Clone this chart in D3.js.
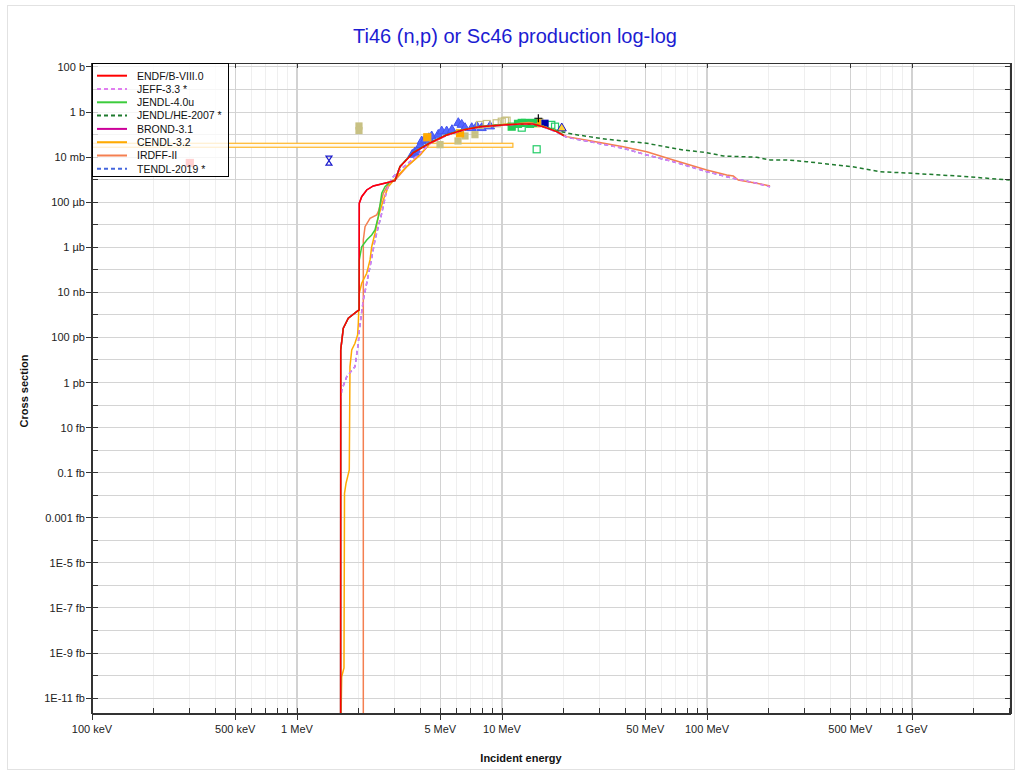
<!DOCTYPE html>
<html lang="en">
<head>
  <meta charset="UTF-8">
  <title>Ti46 (n,p) or Sc46 production log-log</title>
  <script src="https://cdnjs.cloudflare.com/ajax/libs/d3/7.8.5/d3.min.js"></script>
  <style>
    body { margin: 0; background: #fff; }
    svg { font-family: "Liberation Sans", Arial, sans-serif; }
    .tick-label { font-size: 11px; fill: #222; }
    .axis-title { font-size: 11px; font-weight: bold; fill: #111; }
    .legend text { font-size: 10.5px; fill: #111; }
  </style>
</head>
<body>
  <svg width="1020" height="774"></svg>
  <script>
    // energies in MeV, cross sections in barns
    var endf = [[1.632,1e-28],[1.634,2.8e-11],[1.682,2.55e-10],[1.779,7.1e-10],[1.955,1.39e-9],[2.010,1.66e-9],
      [2.013,9.0e-5],[2.068,1.76e-4],[2.188,3.49e-4],[2.356,5.25e-4],[2.739,7.36e-4],[3.006,9.0e-4],[3.18,3.78e-3],
      [3.68,0.0153],[4.455,0.0425],[5.37,0.0962],[6.45,0.160],[7.81,0.225],[10.1,0.267],[12.24,0.296],[14.16,0.296],
      [15.85,0.225],[18.49,0.135],[20.0,0.090]]
    var brond = [[1.632,1e-28],[1.634,2.8e-11],[1.682,2.55e-10],[1.779,7.1e-10],[1.955,1.39e-9],[2.010,1.66e-9],
      [2.013,9.0e-5],[2.068,1.76e-4],[2.188,3.49e-4],[2.356,5.25e-4],[2.739,7.36e-4],[3.006,9.0e-4],[3.18,3.8e-3],
      [3.68,0.0155],[4.455,0.043],[5.37,0.097],[6.45,0.161],[7.81,0.226],[10.1,0.268],[12.24,0.297],[14.16,0.295],
      [15.85,0.226],[18.49,0.136],[20.0,0.091]]
    var jeff = [[1.634,1.7e-13],[1.652,4.68e-13],[1.748,1.82e-12],[1.918,5.06e-12],[1.938,1e-11],[1.991,5.52e-11],
      [2.013,2.15e-10],[2.106,4.6e-9],[2.271,1.38e-7],[2.401,2.11e-6],[2.493,8.22e-6],[2.590,3.23e-5],[2.739,3.49e-4],
      [2.897,1.15e-3],[3.18,2.69e-3],[3.56,6.29e-3],[3.98,0.0148],[4.455,0.040],[5.37,0.092],[6.45,0.155],[7.81,0.22],
      [10.1,0.262],[12.24,0.29],[14.16,0.29],[15.85,0.22],[18.49,0.13],[20.68,0.076],[26.87,0.0485],[39.06,0.0247],
      [50.8,0.01247],[68.5,6.29e-3],[99.7,2.26e-3],[134.4,1.15e-3],[174.7,6.92e-4],[203,4.89e-4]]
    var tendl = [[1.634,1.7e-13],[1.652,4.68e-13],[1.748,1.82e-12],[1.918,5.06e-12],[1.938,1e-11],[1.991,5.52e-11],
      [2.013,2.15e-10],[2.106,4.6e-9],[2.271,1.38e-7],[2.401,2.11e-6],[2.493,8.22e-6],[2.590,3.23e-5],[2.739,3.49e-4],
      [2.897,1.15e-3],[3.18,2.69e-3],[3.56,6.29e-3],[3.98,0.0148],[4.455,0.041],[5.37,0.093],[6.45,0.156],[7.81,0.221],
      [10.1,0.263],[12.24,0.291],[14.16,0.29],[15.85,0.22],[18.49,0.13],[20.68,0.076],[26.87,0.0485],[39.06,0.0247],
      [50.8,0.01247],[68.5,6.29e-3],[99.7,2.26e-3],[134.4,1.15e-3],[174.7,6.92e-4],[203,4.89e-4]]
    var jendl40 = [[1.632,1e-28],[1.634,2.8e-11],[1.682,2.55e-10],[1.779,7.1e-10],[1.955,1.39e-9],[2.010,1.66e-9],
      [2.013,2.74e-7],[2.068,1.06e-6],[2.188,2.11e-6],[2.314,3.52e-6],[2.401,5.86e-6],[2.493,2.28e-5],[2.590,2.49e-4],
      [2.687,4.89e-4],[2.842,8.15e-4],[3.006,9.0e-4],[3.18,3.9e-3],[3.68,0.016],[4.455,0.044],[5.37,0.098],[6.45,0.163],
      [7.81,0.228],[10.1,0.27],[12.24,0.30],[14.16,0.30],[15.85,0.23],[18.49,0.14],[20.0,0.092]]
    var jendlHe = [[3.006,9.0e-4],[3.18,3.8e-3],[3.68,0.0155],[4.455,0.043],[5.37,0.097],[6.45,0.16],[7.81,0.226],
      [10.1,0.27],[12.24,0.295],[14.16,0.29],[15.85,0.23],[18.49,0.15],[22.27,0.1033],[32.42,0.062],[50.8,0.0412],
      [76.6,0.0208],[99.7,0.01578],[120.1,0.01125],[174.7,9.86e-3],[203,7.48e-3],[244.8,7.48e-3],[306.3,6.29e-3],
      [507.9,3.78e-3],[698,2.26e-3],[1000,1.92e-3],[1652,1.46e-3],[3000,9.7e-4]]
    var cendl = [[1.632,1e-28],[1.652,8.9e-26],[1.695,2.19e-25],[1.705,1.22e-17],[1.734,3.39e-17],[1.799,1.32e-16],
      [1.813,5.06e-12],[1.849,2.78e-11],[1.918,5.52e-11],[1.975,1.29e-10],[1.991,4.26e-10],[2.013,9.1e-9],
      [2.068,2.54e-8],[2.188,7.03e-8],[2.271,2.74e-7],[2.314,1.06e-6],[2.401,4.19e-6],[2.493,2.28e-5],[2.636,1.26e-4],
      [2.788,4.89e-4],[3.064,1.36e-3],[3.429,3.78e-3],[3.98,0.01247],[4.455,0.041],[5.37,0.095],[6.45,0.16],
      [7.81,0.225],[10.1,0.28],[12.24,0.31],[14.16,0.31],[15.85,0.235],[18.49,0.14],[20.0,0.09]]
    var irdff = [[2.106,1e-28],[2.106,2.11e-6],[2.147,8.22e-6],[2.271,1.94e-5],[2.448,2.72e-5],[2.493,3.8e-5],
      [2.636,2.49e-4],[2.842,8.15e-4],[3.064,1.15e-3],[3.429,3.78e-3],[3.98,0.01247],[4.455,0.040],[5.37,0.094],
      [6.45,0.158],[7.81,0.222],[10.1,0.27],[12.24,0.31],[13.5,0.34],[14.16,0.32],[15.85,0.235],[18.49,0.14],
      [20.68,0.081],[26.87,0.0537],[39.06,0.0291],[50.8,0.01746],[68.5,7.48e-3],[99.7,2.69e-3],[124.8,1.61e-3],
      [134.4,1.46e-3],[142.1,9.7e-4],[174.7,6.92e-4],[203,5.25e-4]]

    // experimental points
    var blueTri = [[3.651,0.0129],[3.75,0.016],[3.836,0.0182],[4.0,0.035],[4.058,0.0506],[4.212,0.0596],[4.4,0.07],
      [4.54,0.0842],[4.89,0.0991],[5.08,0.14],[5.37,0.14],[5.7,0.16],[6.12,0.328],[6.36,0.275],[6.60,0.197],
      [7.12,0.197],[7.53,0.234],[7.96,0.197],[8.74,0.234]]
    var khakiFill = [[2.006,0.241],[2.006,0.152],[4.985,0.0357],[6.10,0.0521],[6.60,0.0869],[7.38,0.0991],[15.3,0.374]]
    var khakiOpen = [[7.81,0.267],[8.42,0.296],[9.42,0.318],[9.97,0.374],[10.34,0.402],[10.53,0.415]]
    var orangeSq = [[4.32,0.076],[6.24,0.1145],[14.76,0.318]]
    var greenFill = [[11.15,0.225],[11.97,0.30],[12.48,0.33],[12.95,0.33],[13.70,0.30],[14.16,0.33]]
    var greenOpen = [[12.48,0.203],[14.76,0.0223],[17.4,0.27],[18.14,0.225]]
    var navySq = [[16.21,0.318]]
    var blueTriOpen = [[19.56,0.191]]
    var blackPlus = [[15.04,0.53]]
    var hourglass = [[1.432,6.97e-3]]
    var redSq = [[0.30,5.5e-3]]
    var bandE = [0.05, 11.3]
    var bandXs = [0.0274, 0.0412]

    var xTickValues = [0.1, 0.5, 1, 5, 10, 50, 100, 500, 1000]
    var xTickLabels = ["100 keV", "500 keV", "1 MeV", "5 MeV", "10 MeV", "50 MeV", "100 MeV", "500 MeV", "1 GeV"]
    var yTickValues = [1e2, 1, 1e-2, 1e-4, 1e-6, 1e-8, 1e-10, 1e-12, 1e-14, 1e-16, 1e-18, 1e-20, 1e-22, 1e-24, 1e-26]
    var yTickLabels = ["100 b", "1 b", "10 mb", "100 µb", "1 µb", "10 nb", "100 pb", "1 pb", "10 fb", "0.1 fb",
      "0.001 fb", "1E-5 fb", "1E-7 fb", "1E-9 fb", "1E-11 fb"]

    var series = [
      { name: "ENDF/B-VIII.0", data: endf, color: "#ff0000", dash: null },
      { name: "JEFF-3.3 *", data: jeff, color: "#e07ef0", dash: "4,3" },
      { name: "JENDL-4.0u", data: jendl40, color: "#3ccc3c", dash: null },
      { name: "JENDL/HE-2007 *", data: jendlHe, color: "#1f7a2e", dash: "4,3" },
      { name: "BROND-3.1", data: brond, color: "#cc0099", dash: null },
      { name: "CENDL-3.2", data: cendl, color: "#ffaa00", dash: null },
      { name: "IRDFF-II", data: irdff, color: "#f47f50", dash: null },
      { name: "TENDL-2019 *", data: tendl, color: "#4466dd", dash: "4,3" }
    ]

    var L = 92, R = 1011, T = 63, B = 714
    var svg = d3.select("svg")
    var x = d3.scaleLog().domain([0.1, 3040]).range([L, R])
    var y = d3.scaleLog().domain([1.97e-27, 150]).range([B, T])

    // outer frame
    svg.append("rect").attr("x", 7.5).attr("y", 5.5).attr("width", 1007).attr("height", 764)
      .attr("fill", "none").attr("stroke", "#e2e2e2")

    // grid
    var xMinor = [], xMajorGrid = []
    for (var d = -1; d <= 3; d++) {
      for (var m = 1; m <= 9; m++) {
        var v = m * Math.pow(10, d)
        if (v < 0.1 || v > 3040) continue
        if (m === 1 || m === 5) xMajorGrid.push(v); else xMinor.push(v)
      }
    }
    var yDecades = d3.range(-26, 3).map(function (p) { return Math.pow(10, p) })

    var grid = svg.append("g").attr("shape-rendering", "crispEdges")
    grid.selectAll(".gx1").data(xMinor).enter().append("line")
      .attr("x1", x).attr("x2", x).attr("y1", T).attr("y2", B)
      .attr("stroke", "#efefef")
    grid.selectAll(".gy").data(yDecades).enter().append("line")
      .attr("x1", L).attr("x2", R).attr("y1", y).attr("y2", y)
      .attr("stroke", "#d4d4d4")
    grid.selectAll(".gx2").data(xMajorGrid).enter().append("line")
      .attr("x1", x).attr("x2", x).attr("y1", T).attr("y2", B)
      .attr("stroke", "#d2d2d2").attr("stroke-width", 1.2)

    var plot = svg.append("g").attr("clip-path", "url(#clip)")
    svg.append("clipPath").attr("id", "clip").append("rect")
      .attr("x", L).attr("y", T).attr("width", R - L).attr("height", B - T)

    // wide energy band point
    plot.append("rect")
      .attr("x", x(bandE[0])).attr("width", x(bandE[1]) - x(bandE[0]))
      .attr("y", y(bandXs[1])).attr("height", y(bandXs[0]) - y(bandXs[1]))
      .attr("fill", "#fffaf0").attr("stroke", "#ffb628").attr("stroke-width", 1.2)

    function squares(data, size, fill, stroke) {
      plot.append("g").selectAll("rect").data(data).enter().append("rect")
        .attr("x", function (d) { return x(d[0]) - size / 2 })
        .attr("y", function (d) { return y(d[1]) - size / 2 })
        .attr("width", size).attr("height", size)
        .attr("fill", fill).attr("stroke", stroke).attr("stroke-width", 1.2)
    }
    function symbols(data, type, size, fill, stroke) {
      plot.append("g").selectAll("path").data(data).enter().append("path")
        .attr("transform", function (d) { return "translate(" + x(d[0]) + "," + y(d[1]) + ")" })
        .attr("d", d3.symbol().type(type).size(size))
        .attr("fill", fill).attr("stroke", stroke).attr("stroke-width", 1)
    }

    squares(redSq, 7, "#ff3030", "#ff3030")
    symbols(blueTri, d3.symbolTriangle, 36, "#5566ff", "#4455ee")
    squares(khakiFill, 6, "#c8c184", "#c8c184")
    squares(khakiOpen, 7, "none", "#c8c184")
    squares(orangeSq, 7, "#ffaa00", "#ffaa00")
    squares(greenFill, 7, "#22cc55", "#22cc55")
    squares(greenOpen, 7, "none", "#22cc66")
    squares(navySq, 6, "#0000aa", "#0000aa")
    symbols(blueTriOpen, d3.symbolTriangle, 36, "#ffd23a", "#1a1acc")
    plot.append("g").selectAll("path").data(blackPlus).enter().append("path")
      .attr("transform", function (d) { return "translate(" + x(d[0]) + "," + y(d[1]) + ")" })
      .attr("d", "M-4,0H4M0,-4V4").attr("stroke", "#000").attr("stroke-width", 1.2)
    plot.append("g").selectAll("path").data(hourglass).enter().append("path")
      .attr("transform", function (d) { return "translate(" + x(d[0]) + "," + y(d[1]) + ")" })
      .attr("d", "M-3,-4.5H3L-3,4.5H3Z").attr("fill", "none").attr("stroke", "#1a1acc").attr("stroke-width", 1.2)

    // evaluated curves, last legend entry drawn first
    var line = d3.line().x(function (d) { return x(d[0]) }).y(function (d) { return y(d[1]) })
    series.slice().reverse().forEach(function (s) {
      plot.append("path").datum(s.data)
        .attr("d", line).attr("fill", "none")
        .attr("stroke", s.color).attr("stroke-width", 1.5)
        .attr("stroke-dasharray", s.dash)
    })

    // axes frame and ticks
    var ax = svg.append("g").attr("stroke", "#333").attr("shape-rendering", "crispEdges")
    ax.append("line").attr("x1", L).attr("x2", R).attr("y1", T).attr("y2", T).attr("stroke-width", 1)
    ax.append("line").attr("x1", L).attr("x2", R).attr("y1", B).attr("y2", B).attr("stroke-width", 2)
    ax.append("line").attr("x1", L).attr("x2", L).attr("y1", T).attr("y2", B).attr("stroke-width", 2)
    ax.append("line").attr("x1", R).attr("x2", R).attr("y1", T).attr("y2", B).attr("stroke-width", 2)

    var xAll = xMinor.concat(xMajorGrid.filter(function (v) { return xTickValues.indexOf(v) < 0 }))
    ax.selectAll(".xm").data(xAll).enter().append("line")
      .attr("x1", x).attr("x2", x).attr("y1", B).attr("y2", B - 6)
    ax.selectAll(".xM").data(xTickValues).enter().append("line")
      .attr("x1", x).attr("x2", x).attr("y1", B + 6).attr("y2", B - 6)
    ax.selectAll(".xt").data(xTickValues).enter().append("line")
      .attr("x1", x).attr("x2", x).attr("y1", T).attr("y2", T + 5)
    var yMinor = yDecades.filter(function (v) { return yTickValues.indexOf(v) < 0 })
    ax.selectAll(".ym").data(yMinor).enter().append("line")
      .attr("x1", L).attr("x2", L + 6).attr("y1", y).attr("y2", y)
    ax.selectAll(".yM").data(yTickValues).enter().append("line")
      .attr("x1", L - 6).attr("x2", L + 6).attr("y1", y).attr("y2", y)
    ax.selectAll(".yr").data(yDecades).enter().append("line")
      .attr("x1", R - 6).attr("x2", R).attr("y1", y).attr("y2", y)

    svg.append("g").selectAll("text").data(xTickValues).enter().append("text")
      .attr("class", "tick-label").attr("x", x).attr("y", 733)
      .attr("text-anchor", "middle").text(function (d, i) { return xTickLabels[i] })
    svg.append("g").selectAll("text").data(yTickValues).enter().append("text")
      .attr("class", "tick-label").attr("x", L - 7).attr("y", function (d) { return y(d) + 4 })
      .attr("text-anchor", "end").text(function (d, i) { return yTickLabels[i] })

    svg.append("text").attr("x", 515).attr("y", 43).attr("text-anchor", "middle")
      .style("font-size", "20px").attr("fill", "#1c1cd2")
      .text("Ti46 (n,p) or Sc46 production log-log")
    svg.append("text").attr("class", "axis-title").attr("x", 521).attr("y", 762)
      .attr("text-anchor", "middle").text("Incident energy")
    svg.append("text").attr("class", "axis-title")
      .attr("transform", "translate(28,391) rotate(-90)")
      .attr("text-anchor", "middle").text("Cross section")

    // legend
    var lg = svg.append("g").attr("class", "legend")
    lg.append("rect").attr("x", 92.5).attr("y", 63.5).attr("width", 136).attr("height", 113)
      .attr("fill", "#fff").attr("fill-opacity", 0.78).attr("stroke", "#000")
    series.forEach(function (s, i) {
      var yy = 75.7 + i * 13.3
      lg.append("line").attr("x1", 97).attr("x2", 127).attr("y1", yy).attr("y2", yy)
        .attr("stroke", s.color).attr("stroke-width", 2).attr("stroke-dasharray", s.dash)
      lg.append("text").attr("x", 137).attr("y", yy + 3.8).text(s.name)
    })
  </script>
</body>
</html>
